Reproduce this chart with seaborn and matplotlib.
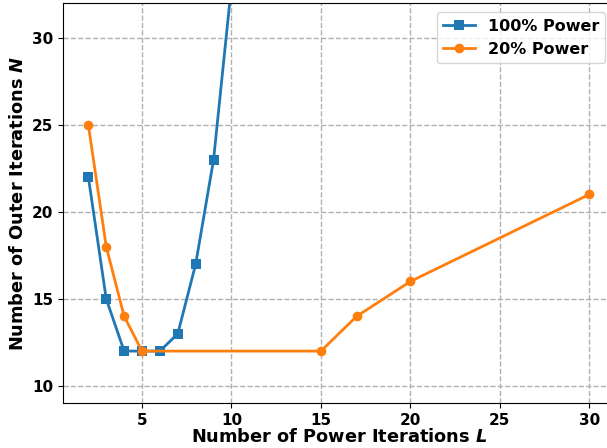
import matplotlib
matplotlib.use("Agg")
import matplotlib.pyplot as plt
import seaborn as sns
import pandas as pd

L_full = [2, 3, 4, 5, 6, 7, 8, 9, 10]
N_full = [22, 15, 12, 12, 12, 13, 17, 23, 33]
L_low = [2, 3, 4, 5, 15, 17, 20, 30]
N_low = [25, 18, 14, 12, 12, 14, 16, 21]
series_names = ["100% Power", "20% Power"]

df = pd.concat([
    pd.DataFrame({"L": L_full, "N": N_full, "series": series_names[0]}),
    pd.DataFrame({"L": L_low, "N": N_low, "series": series_names[1]}),
], ignore_index=True)

plt.rcParams['font.family'] = ['DejaVu Sans']
plt.rcParams['font.weight'] = 'bold'

fig = plt.figure(figsize=(6.07, 4.48), dpi=100)
ax = fig.add_axes([63.3/607, (448-403.3)/448, 551/607, 400.3/448])

sns.lineplot(data=df, x="L", y="N", hue="series", style="series",
             markers={series_names[0]: "s", series_names[1]: "o"},
             dashes=False, palette=["#1f77b4", "#ff7f0e"],
             linewidth=2, markersize=7, markeredgewidth=0, ax=ax)

ax.set_xlim(0.6, 31.4)
ax.set_ylim(9, 32)
ax.set_xticks([5, 10, 15, 20, 25, 30])
ax.set_yticks([10, 15, 20, 25, 30])
ax.grid(True, linestyle='--', color='#b0b0b0', linewidth=1)
ax.set_axisbelow(True)
for lab in ax.get_xticklabels() + ax.get_yticklabels():
    lab.set_fontweight('bold')
    lab.set_fontsize(11)
ax.set_xlabel("Number of Power Iterations $\\boldsymbol{L}$", fontsize=12.8, fontweight='bold', labelpad=0)
ax.set_ylabel("Number of Outer Iterations $\\boldsymbol{N}$", fontsize=12.8, fontweight='bold')
leg = ax.legend(loc='upper right', bbox_to_anchor=(0.984, 0.977), borderaxespad=0,
                prop={'weight': 'bold', 'size': 11.5})
leg.set_title(None)

fig.savefig("out.png", dpi=100)
